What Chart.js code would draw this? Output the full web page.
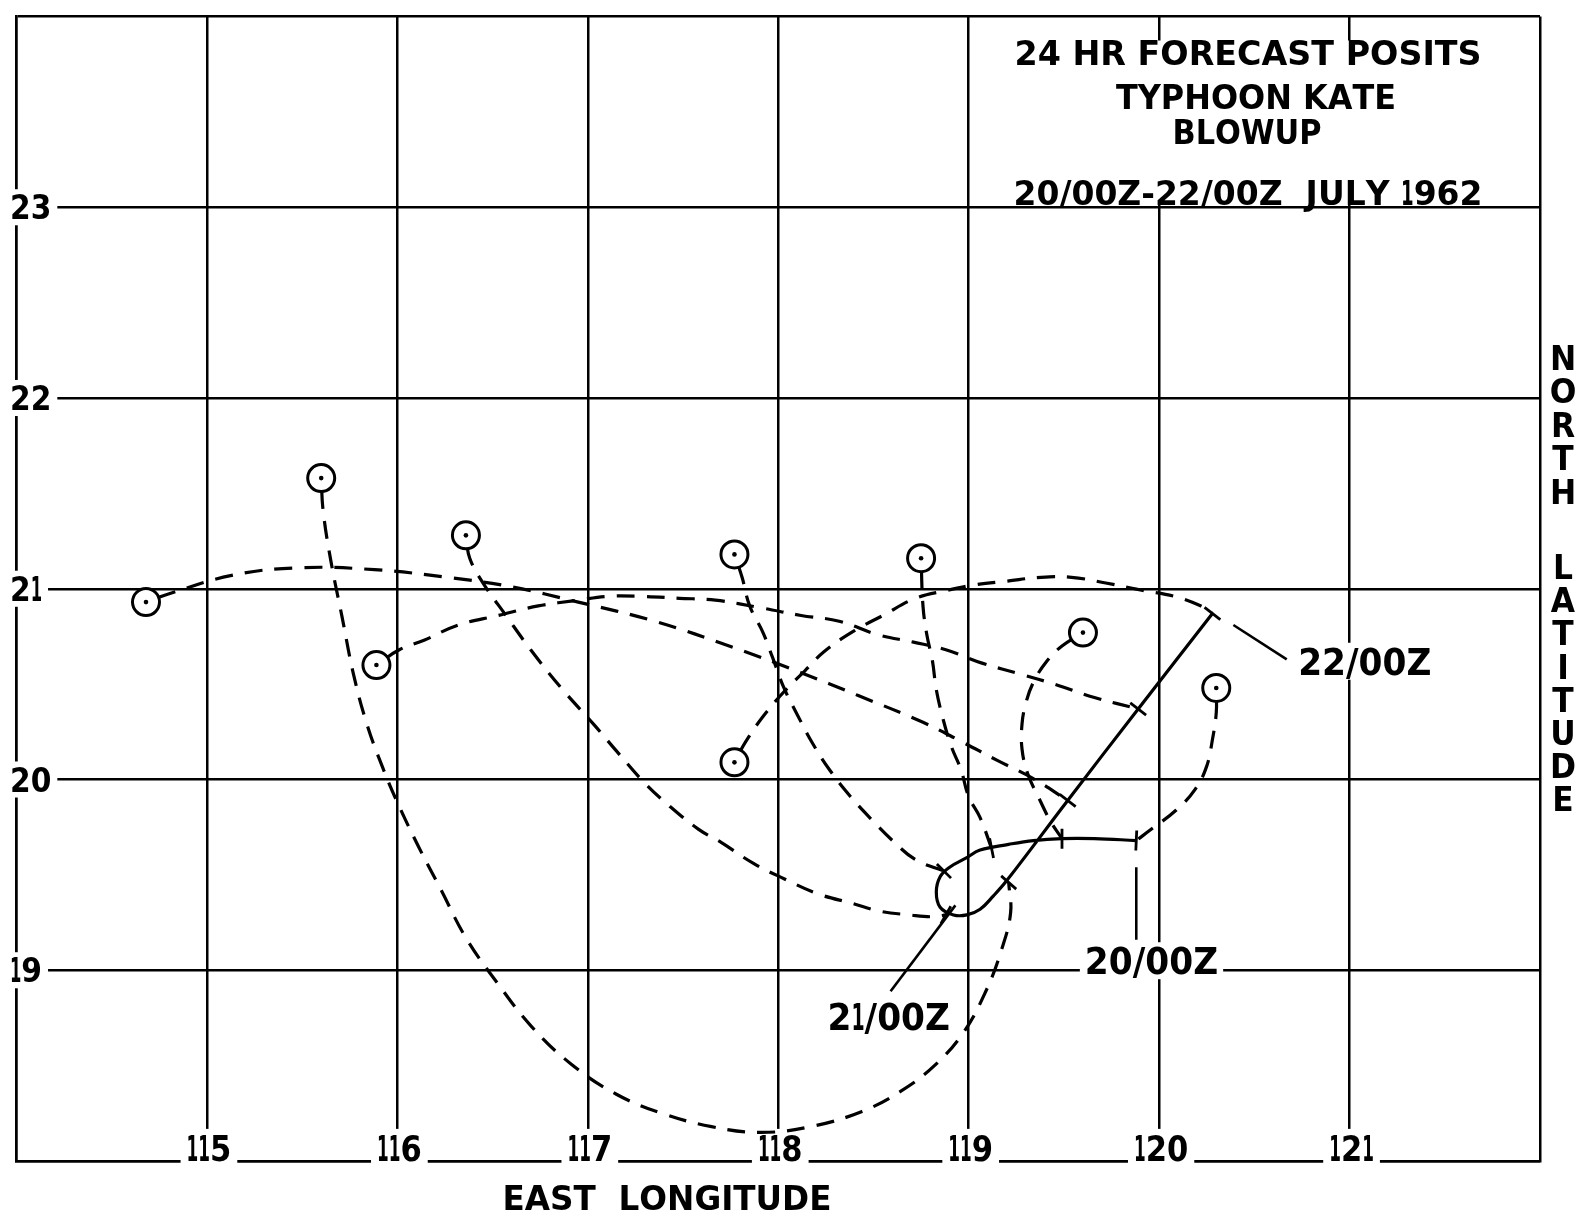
<!DOCTYPE html>
<html>
<head>
<meta charset="utf-8">
<title>24 HR Forecast Posits - Typhoon Kate</title>
<script src="https://cdn.jsdelivr.net/npm/chart.js@4.4.1/dist/chart.umd.min.js"></script>
<style>
  html, body { margin: 0; padding: 0; background: #fff; }
  canvas { display: block; }
</style>
</head>
<body>
<canvas id="chart" width="1585" height="1218"></canvas>
<script>
// grid / tick labels (degrees)
const lonTicks = [115, 116, 117, 118, 119, 120, 121];
const latTicks = [19, 20, 21, 22, 23];

// observed track of Kate (solid line), 20/00Z -> 22/00Z
const trackLon = [119.88, 119.66, 119.49, 119.34, 119.21, 119.06, 118.99, 118.90, 118.85, 118.83, 118.85, 118.92, 118.99, 119.06, 119.13, 119.20, 119.52, 119.89, 120.28];
const trackLat = [19.68, 19.69, 19.69, 19.68, 19.66, 19.63, 19.59, 19.54, 19.49, 19.41, 19.33, 19.29, 19.29, 19.32, 19.39, 19.47, 19.89, 20.37, 20.87];

// 6-hourly positions on the track where each forecast was made
const fixTimes = ['20/00Z', '20/06Z', '20/12Z', '20/18Z', '21/00Z', '21/06Z', '21/12Z', '21/18Z', '22/00Z'];
const fixLon = [119.88, 119.49, 119.12, 118.87, 118.88, 119.21, 119.52, 119.89, 120.28];
const fixLat = [19.68, 19.69, 19.64, 19.52, 19.29, 19.46, 19.89, 20.37, 20.87];

// 24 hr forecast positions (circled dots), same order as fixTimes
const fcstLon = [120.30, 119.60, 118.75, 117.77, 116.36, 115.60, 114.68, 115.89, 117.77];
const fcstLat = [20.48, 20.77, 21.16, 21.18, 21.28, 21.58, 20.93, 20.60, 20.09];

// dashed paths: points between the fix and its forecast
const path2000 = [[119.96, 19.74], [120.09, 19.84], [120.19, 19.95], [120.25, 20.07], [120.28, 20.21], [120.30, 20.35]];
const path2006 = [[119.43, 19.78], [119.37, 19.90], [119.31, 20.03], [119.28, 20.16], [119.28, 20.29], [119.30, 20.40], [119.34, 20.51], [119.41, 20.62], [119.49, 20.70]];
const path2012 = [[119.06, 19.80], [119.00, 19.91], [118.96, 20.05], [118.91, 20.17], [118.87, 20.30], [118.83, 20.47], [118.81, 20.62], [118.78, 20.76], [118.76, 20.91]];
const path2018 = [[118.72, 19.58], [118.60, 19.68], [118.49, 19.79], [118.38, 19.91], [118.27, 20.05], [118.18, 20.19], [118.10, 20.34], [118.03, 20.48], [117.97, 20.64], [117.92, 20.77], [117.85, 20.91], [117.81, 21.06]];
const path2100 = [[118.82, 19.28], [118.69, 19.29], [118.53, 19.31], [118.39, 19.35], [118.21, 19.40], [118.03, 19.48], [117.87, 19.56], [117.70, 19.67], [117.58, 19.74], [117.43, 19.86], [117.30, 19.98], [117.15, 20.15], [117.03, 20.29], [116.86, 20.48], [116.70, 20.68], [116.57, 20.86], [116.45, 21.03], [116.38, 21.16]];
const path2106 = [[119.22, 19.30], [119.17, 19.10], [119.09, 18.89], [118.97, 18.67], [118.82, 18.50], [118.65, 18.37], [118.44, 18.26], [118.17, 18.18], [117.91, 18.15], [117.65, 18.18], [117.39, 18.25], [117.15, 18.35], [116.91, 18.51], [116.70, 18.71], [116.52, 18.94], [116.36, 19.17], [116.23, 19.42], [116.11, 19.65], [116.00, 19.88], [115.92, 20.07], [115.84, 20.29], [115.77, 20.55], [115.71, 20.85], [115.65, 21.15], [115.61, 21.41]];
const path2112 = [[119.33, 20.01], [119.15, 20.10], [118.96, 20.20], [118.76, 20.30], [118.42, 20.44], [118.12, 20.56], [117.77, 20.69], [117.35, 20.83], [116.95, 20.93], [116.60, 21.01], [116.26, 21.06], [115.88, 21.10], [115.48, 21.11], [115.13, 21.07], [114.79, 20.97]];
const path2118 = [[119.66, 20.43], [119.45, 20.50], [119.28, 20.55], [119.07, 20.61], [118.88, 20.68], [118.71, 20.72], [118.52, 20.76], [118.32, 20.83], [118.12, 20.86], [117.91, 20.90], [117.67, 20.94], [117.48, 20.95], [117.28, 20.96], [117.10, 20.96], [116.95, 20.94], [116.74, 20.91], [116.53, 20.86], [116.32, 20.81], [116.14, 20.73], [116.01, 20.68]];
const path2200 = [[120.22, 20.91], [120.08, 20.96], [119.92, 20.99], [119.72, 21.03], [119.54, 21.06], [119.38, 21.06], [119.20, 21.04], [119.03, 21.02], [118.88, 20.99], [118.72, 20.95], [118.55, 20.86], [118.40, 20.78], [118.24, 20.67], [118.14, 20.57], [118.03, 20.46], [117.92, 20.33], [117.83, 20.20]];
const fcstPaths = [path2000, path2006, path2012, path2018, path2100, path2106, path2112, path2118, path2200];

// time labels on the track and their leader lines
const timeLabels = ['20/00Z', '21/00Z', '22/00Z'];
const timeLabelLon = [119.96, 118.58, 121.08];
const timeLabelLat = [19.05, 18.76, 20.62];
const leader2000 = [[119.88, 19.54], [119.88, 19.16]];
const leader2100 = [[118.59, 18.89], [118.93, 19.34]];
const leader2200 = [[120.39, 20.81], [120.67, 20.63]];

const FONT = '"DejaVu Sans", "Liberation Sans", sans-serif';
const INK = '#000';

// hand lettering: per-glyph drawing so the "1" stays narrow like the template
function lettering(ctx, text, cx, cy, size, opts = {}) {
    ctx.save();
    ctx.font = `bold ${size}px ${FONT}`;
    ctx.textAlign = 'center';
    ctx.textBaseline = 'alphabetic';
    const glyphs = Array.from(text).map(ch => {
        const narrow = ch === '1' ? 0.55 : 1;
        return { ch, narrow, w: ctx.measureText(ch).width * narrow };
    });
    const natural = glyphs.reduce((s, g) => s + g.w, 0);
    const sx = opts.width ? opts.width / natural : (opts.sx || 1);
    const total = natural * sx;
    let x = opts.align === 'left' ? cx : cx - total / 2;
    const cap = size * 0.729;
    if (opts.box) {
        ctx.fillStyle = '#fff';
        ctx.fillRect(x - opts.box, cy - cap / 2 - opts.box, total + 2 * opts.box, cap + 2 * opts.box);
    }
    ctx.fillStyle = INK;
    glyphs.forEach(g => {
        ctx.save();
        ctx.translate(x + g.w * sx / 2, cy + cap / 2);
        ctx.scale(sx * g.narrow, 1);
        ctx.fillText(g.ch, 0, 0);
        ctx.restore();
        x += g.w * sx;
    });
    ctx.restore();
}

// tick across the track: perpendicular to the nearest track segment
function tickRotation(lon, lat) {
    let best = Infinity, ang = 0;
    for (let k = 0; k < trackLon.length - 1; k++) {
        const ax = trackLon[k], ay = trackLat[k];
        const dx = trackLon[k + 1] - ax, dy = trackLat[k + 1] - ay;
        const t = Math.max(0, Math.min(1, ((lon - ax) * dx + (lat - ay) * dy) / (dx * dx + dy * dy)));
        const d = Math.hypot(ax + t * dx - lon, ay + t * dy - lat);
        if (d < best) { best = d; ang = Math.atan2(-dy, dx); }
    }
    return ang * 180 / Math.PI + 90;
}

const toPoints = (lons, lats) => lons.map((v, i) => ({ x: v, y: lats[i] }));
const pairPoints = pairs => pairs.map(([x, y]) => ({ x, y }));

const paperPlugin = {
    id: 'paper',
    beforeDraw(chart) {
        const { ctx, width, height } = chart;
        ctx.save();
        ctx.fillStyle = '#fff';
        ctx.fillRect(0, 0, width, height);
        ctx.restore();
    },
    beforeDatasetsDraw(chart) {
        const { ctx, chartArea, scales: { x, y } } = chart;

        // title block: grid is left out east of 119E above 23N
        const x119 = x.getPixelForValue(119);
        ctx.save();
        ctx.fillStyle = '#fff';
        ctx.fillRect(x119 + 3, chartArea.top + 24, chartArea.right - x119 - 6, y.getPixelForValue(23) - chartArea.top - 27);
        ctx.restore();

        lettering(ctx, '24 HR FORECAST POSITS', 1248, 53, 33, { width: 467 });
        lettering(ctx, 'TYPHOON KATE', 1256, 97, 33, { width: 280 });
        lettering(ctx, 'BLOWUP', 1247, 132, 33, { width: 149 });
        lettering(ctx, '20/00Z-22/00Z  JULY 1962', 1248, 193, 33, { width: 469 });

        latTicks.forEach(lat => {
            lettering(ctx, String(lat), 10, y.getPixelForValue(lat), 33, { align: 'left', sx: 0.9, box: 6 });
        });
        lonTicks.forEach(lon => {
            lettering(ctx, String(lon), x.getPixelForValue(lon) + 2, 1148, 36, { sx: 0.85, box: 6 });
        });

        timeLabels.forEach((t, i) => {
            lettering(ctx, t, x.getPixelForValue(timeLabelLon[i]), y.getPixelForValue(timeLabelLat[i]), 37, { sx: 0.93, box: 5 });
        });

        // axis titles
        lettering(ctx, 'EAST  LONGITUDE', 667, 1198, 34, { width: 329 });
        Array.from('NORTH').forEach((ch, i) => lettering(ctx, ch, 1563, 358 + i * 33.4, 33, { sx: 0.95 }));
        Array.from('LATITUDE').forEach((ch, i) => lettering(ctx, ch, 1563, 567 + i * 33.2, 33, { sx: 0.95 }));
    }
};

const dashed = {
    showLine: true,
    borderColor: INK,
    borderWidth: 3.2,
    borderDash: [18, 12],
    borderDashOffset: 17,
    tension: 0.4,
    pointRadius: 0,
    fill: false,
    order: 5
};

const forecastSets = fcstPaths.map((path, i) => ({
    ...dashed,
    label: `forecast ${fixTimes[i]}`,
    // drawn from the circle back to the fix, so dashes start at the circle
    data: [{ x: fcstLon[i], y: fcstLat[i] }, ...pairPoints(path.slice().reverse()), { x: fixLon[i], y: fixLat[i] }]
}));

const leaderSets = [leader2000, leader2100, leader2200].map(l => ({
    label: 'leader',
    data: pairPoints(l),
    showLine: true,
    borderColor: INK,
    borderWidth: 2.6,
    pointRadius: 0,
    tension: 0,
    order: 4
}));

new Chart(document.getElementById('chart'), {
    type: 'scatter',
    data: {
        datasets: [
            {
                label: 'forecast centre',
                data: toPoints(fcstLon, fcstLat),
                pointStyle: 'circle',
                pointRadius: 2.3,
                pointBackgroundColor: INK,
                pointBorderWidth: 0,
                order: 0
            },
            {
                label: '24 hr forecast position',
                data: toPoints(fcstLon, fcstLat),
                pointStyle: 'circle',
                pointRadius: 13.5,
                pointBackgroundColor: '#fff',
                pointBorderColor: INK,
                pointBorderWidth: 3,
                order: 1
            },
            {
                label: 'fix',
                data: toPoints(fixLon, fixLat),
                pointStyle: 'line',
                pointRadius: 10,
                pointBorderColor: INK,
                pointBorderWidth: 2.8,
                pointRotation: fixLon.map((lon, i) => tickRotation(lon, fixLat[i])),
                order: 2
            },
            {
                label: 'observed track',
                data: toPoints(trackLon, trackLat),
                showLine: true,
                borderColor: INK,
                borderWidth: 3.2,
                tension: 0.4,
                pointRadius: 0,
                order: 3
            },
            ...leaderSets,
            ...forecastSets
        ]
    },
    options: {
        responsive: false,
        animation: false,
        devicePixelRatio: 1,
        events: [],
        layout: { padding: { left: 14, top: 6, right: 45, bottom: 57 } },
        plugins: {
            legend: { display: false },
            tooltip: { enabled: false }
        },
        scales: {
            x: {
                type: 'linear',
                min: 114,
                max: 122,
                ticks: { display: false, stepSize: 1 },
                grid: { color: INK, lineWidth: 2.5, drawTicks: false },
                border: { display: true, color: INK, width: 2.5 }
            },
            y: {
                type: 'linear',
                min: 18,
                max: 24,
                ticks: { display: false, stepSize: 1 },
                grid: { color: INK, lineWidth: 2.5, drawTicks: false },
                border: { display: true, color: INK, width: 2.5 }
            }
        }
    },
    plugins: [paperPlugin]
});
</script>
</body>
</html>
